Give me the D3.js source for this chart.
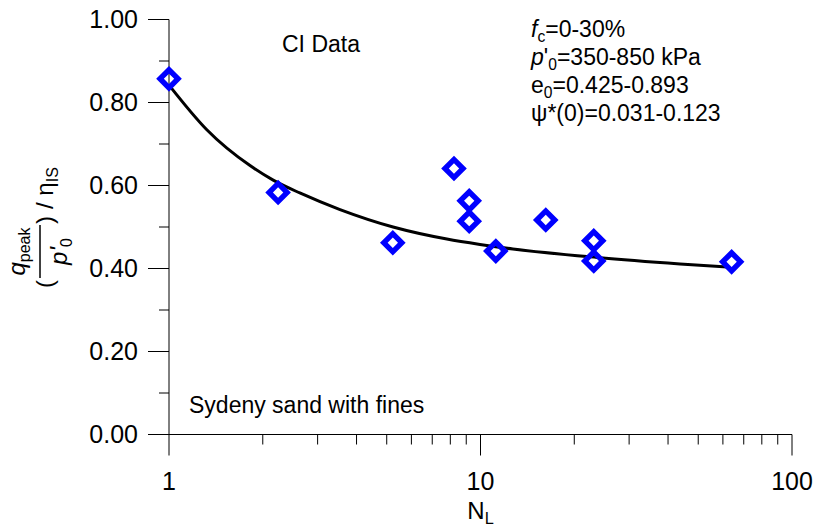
<!DOCTYPE html>
<html>
<head>
<meta charset="utf-8">
<script src="https://cdn.jsdelivr.net/npm/d3@7"></script>
<style>
  body { margin: 0; background: #fff; }
  text { font-family: Arial, "Liberation Sans", sans-serif; fill: #000; }
</style>
</head>
<body>
<svg id="svg" width="816" height="527"></svg>
<script>
// 数据点 (N_L, 比值)
const pointN = [1, 2.24, 5.23, 8.22, 9.2, 9.2, 11.2, 16.2, 23.1, 23.1, 64];
const pointV = [0.857, 0.583, 0.462, 0.641, 0.563, 0.514, 0.442, 0.517, 0.467, 0.418, 0.416];

// 拟合曲线
const curveN = [1, 1.32, 1.82, 2.16, 2.63, 3.54, 5.24, 7.8, 9.96, 12.7, 23.7, 43.7, 62];
const curveV = [0.842, 0.735, 0.648, 0.613, 0.582, 0.542, 0.500, 0.471, 0.458, 0.447, 0.4265, 0.411, 0.4035];

// 刻度
const yMajor = [0, 0.2, 0.4, 0.6, 0.8, 1.0];
const yMinor = [0.1, 0.3, 0.5, 0.7, 0.9];
const xMajor = [1, 10, 100];
const xMinor = [2, 3, 4, 5, 6, 7, 8, 9, 20, 30, 40, 50, 60, 70, 80, 90];

const FONT = "Arial, 'Liberation Sans', sans-serif";
const svg = d3.select("#svg");

const x = d3.scaleLog().domain([1, 100]).range([169, 792]);
const y = d3.scaleLinear().domain([0, 1]).range([434.5, 19.5]);

// y轴
svg.append("g")
  .attr("transform", "translate(169,0)")
  .call(d3.axisLeft(y).tickValues(yMajor).tickSize(21).tickSizeOuter(0)
        .tickPadding(10).tickFormat(d3.format(".2f")).offset(0));
svg.append("g")
  .attr("transform", "translate(169,0)")
  .call(d3.axisLeft(y).tickValues(yMinor).tickSize(10).tickFormat("").offset(0))
  .select(".domain").remove();

// x轴
svg.append("g")
  .attr("transform", "translate(0,434.5)")
  .call(d3.axisBottom(x).tickValues(xMajor).tickSize(21).tickSizeOuter(0)
        .tickPadding(16.5).tickFormat(d3.format("d")).offset(0));
svg.append("g")
  .attr("transform", "translate(0,434.5)")
  .call(d3.axisBottom(x).tickValues(xMinor).tickSize(10).tickFormat("").offset(0))
  .select(".domain").remove();

svg.selectAll(".tick text").attr("font-size", 25).attr("font-family", FONT);

// 曲线
const line = d3.line()
  .x(d => x(d[0]))
  .y(d => y(d[1]))
  .curve(d3.curveMonotoneX);
svg.append("path")
  .datum(d3.zip(curveN, curveV))
  .attr("d", line)
  .attr("fill", "none")
  .attr("stroke", "#000")
  .attr("stroke-width", 3);

// 菱形点
const diamond = d3.symbol(d3.symbolSquare, 162);
svg.selectAll(".pt")
  .data(d3.zip(pointN, pointV))
  .enter().append("path")
  .attr("class", "pt")
  .attr("d", diamond)
  .attr("transform", d => "translate(" + x(d[0]) + "," + y(d[1]) + ") rotate(45)")
  .attr("fill", "none")
  .attr("stroke", "#0000ff")
  .attr("stroke-width", 5.4)
  .attr("stroke-linejoin", "miter");

// 文字
function label(xp, yp, parts, size=23, anchor="start") {
  const t = svg.append("text")
    .attr("x", xp).attr("y", yp)
    .attr("font-size", size)
    .attr("text-anchor", anchor);
  let shift = 0;
  parts.forEach(p => {
    const s = t.append("tspan").text(p.t);
    const want = p.sub ? 5 : 0;
    if (want !== shift) { s.attr("dy", want - shift); shift = want; }
    if (p.sub) s.attr("font-size", size * 0.68);
    if (p.it) s.attr("font-style", "italic");
  });
  return t;
}

label(321, 52, [{t: "CI Data"}], 23, "middle");
label(189, 413, [{t: "Sydeny sand with fines"}]);

label(531, 37, [{t: "f", it: true}, {t: "c", sub: true}, {t: "=0-30%"}]);
label(531, 65, [{t: "p", it: true}, {t: "'"}, {t: "0", sub: true}, {t: "=350-850 kPa"}]);
label(531, 93, [{t: "e"}, {t: "0", sub: true}, {t: "=0.425-0.893"}]);
label(531, 121, [{t: "\u03c8*(0)=0.031-0.123"}]);

label(480.5, 519, [{t: "N"}, {t: "L", sub: true}], 24, "middle");

// y轴标题 (旋转)
const gt = svg.append("g").attr("transform", "translate(53,288) rotate(-90)");
gt.append("text").attr("x", 0).attr("y", 0).attr("font-size", 24).text("(");
gt.append("line")
  .attr("x1", 10).attr("x2", 63).attr("y1", -13).attr("y2", -13)
  .attr("stroke", "#000").attr("stroke-width", 1.5);
const num = gt.append("text").attr("x", 36.5).attr("y", -28)
  .attr("font-size", 24).attr("text-anchor", "middle");
num.append("tspan").attr("font-style", "italic").text("q");
num.append("tspan").attr("font-size", 16).attr("dy", 5).text("peak");
const den = gt.append("text").attr("x", 36.5).attr("y", 14)
  .attr("font-size", 24).attr("text-anchor", "middle");
den.append("tspan").attr("font-style", "italic").text("p'");
den.append("tspan").attr("font-size", 16).attr("dy", 5).text("0");
gt.append("text").attr("x", 64).attr("y", 0).attr("font-size", 24).text(")");
const rest = gt.append("text").attr("x", 79).attr("y", 0).attr("font-size", 24);
rest.append("tspan").text("/\u00a0\u03b7");
rest.append("tspan").attr("font-size", 16).attr("dy", 5).text("IS");
</script>
</body>
</html>
